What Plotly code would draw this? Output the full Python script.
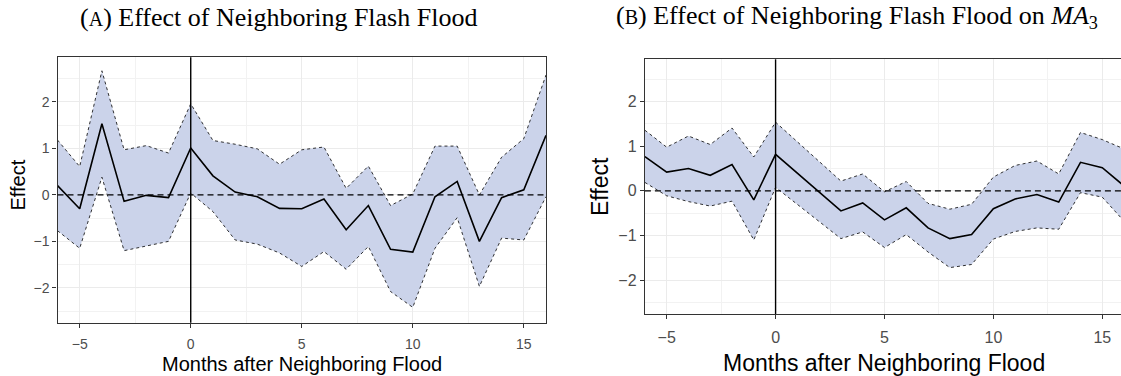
import plotly.graph_objects as go

# ---------------- data ----------------
months = list(range(-6, 17))

# Panel A: Effect of Neighboring Flash Flood
a_est = [0.20, -0.30, 1.53, -0.14, -0.01, -0.06, 1.01, 0.41, 0.06, -0.04, -0.29,
         -0.30, -0.09, -0.75, -0.23, -1.17, -1.23, -0.04, 0.29, -1.00, -0.06, 0.11, 1.28]
a_upper = [1.18, 0.61, 2.67, 0.97, 1.06, 0.90, 1.96, 1.17, 1.09, 0.99, 0.66,
           0.97, 1.03, 0.14, 0.62, -0.23, 0.02, 1.05, 1.05, 0.00, 0.81, 1.21, 2.58]
a_lower = [-0.77, -1.15, 0.38, -1.20, -1.10, -1.00, 0.04, -0.36, -0.97, -1.06, -1.25,
           -1.54, -1.22, -1.60, -1.11, -2.08, -2.42, -1.15, -0.49, -1.97, -0.93, -0.97, -0.04]

# Panel B: Effect of Neighboring Flash Flood on MA3
b_est = [0.77, 0.42, 0.50, 0.35, 0.59, -0.20, 0.82, 0.39, -0.02, -0.45, -0.27,
         -0.65, -0.38, -0.83, -1.07, -0.98, -0.40, -0.18, -0.08, -0.25, 0.64, 0.52, 0.11]
b_upper = [1.36, 0.98, 1.23, 1.04, 1.41, 0.76, 1.54, 1.10, 0.67, 0.22, 0.38,
           -0.02, 0.21, -0.28, -0.41, -0.30, 0.31, 0.57, 0.67, 0.38, 1.31, 1.15, 0.94]
b_lower = [0.19, -0.11, -0.24, -0.34, -0.23, -1.10, 0.08, -0.31, -0.69, -1.07, -0.92,
           -1.27, -0.98, -1.37, -1.72, -1.65, -1.08, -0.91, -0.83, -0.86, -0.04, -0.14, -0.68]

x_ticks = [-5, 0, 5, 10, 15]
y_ticks = [-2, -1, 0, 1, 2]

title_a = "(<span style='font-size:20px'>A</span>) Effect of Neighboring Flash Flood"
title_b = "(<span style='font-size:20px'>B</span>) Effect of Neighboring Flash Flood on <i>MA</i><sub>3</sub>"
x_title = "Months after Neighboring Flood"
y_title = "Effect"

# ---------------- style ----------------
FILL = "rgb(203,211,234)"
GRID = "#ebebeb"
AXC = "#333333"
TICKC = "#4d4d4d"
W, H = 1121, 376

fig = go.Figure()


def add_panel(xa, ya, est, up, lo):
    fig.add_trace(go.Scatter(x=months, y=lo, mode="lines", xaxis=xa, yaxis=ya,
                             line=dict(color="black", width=0.8, dash="3px,3px"),
                             showlegend=False, hoverinfo="skip"))
    fig.add_trace(go.Scatter(x=months, y=up, mode="lines", xaxis=xa, yaxis=ya,
                             fill="tonexty", fillcolor=FILL,
                             line=dict(color="black", width=0.8, dash="3px,3px"),
                             showlegend=False, hoverinfo="skip"))
    fig.add_trace(go.Scatter(x=months, y=est, mode="lines", xaxis=xa, yaxis=ya,
                             line=dict(color="black", width=1.6),
                             showlegend=False))


add_panel("x", "y", a_est, a_upper, a_lower)
add_panel("x2", "y2", b_est, b_upper, b_lower)


def xaxis(domain, rng, anchor, fs, mirror, standoff):
    return dict(domain=domain, range=rng, anchor=anchor, tickvals=x_ticks,
                ticks="outside", ticklen=4, tickwidth=1, tickcolor=AXC,
                ticklabelstandoff=standoff,
                tickfont=dict(family="Liberation Sans, Arial", size=fs, color=TICKC),
                showgrid=True, gridcolor=GRID, gridwidth=1.3, zeroline=False,
                showline=True, linecolor=AXC, linewidth=1.3, mirror=mirror,
                minor=dict(tickvals=[-2.5, 2.5, 7.5, 12.5], showgrid=True,
                           gridcolor="#f2f2f2", gridwidth=0.8, ticks=""))


def yaxis(domain, rng, anchor, fs, mirror):
    return dict(domain=domain, range=rng, anchor=anchor, tickvals=y_ticks,
                ticks="outside", ticklen=4, tickwidth=1, tickcolor=AXC,
                tickfont=dict(family="Liberation Sans, Arial", size=fs, color=TICKC),
                showgrid=True, gridcolor=GRID, gridwidth=1.3, zeroline=False,
                showline=True, linecolor=AXC, linewidth=1.3, mirror=mirror,
                minor=dict(tickvals=[-2.5, -1.5, -0.5, 0.5, 1.5, 2.5], showgrid=True,
                           gridcolor="#f2f2f2", gridwidth=0.8, ticks=""))


lx0, lx1 = 57.5, 546.0
ly_top, ly_bot = 57.3, 322.7
rx0 = 644.9
ry_top, ry_bot = 59.3, 314.0
r_unit = 21.78

fig.update_layout(
    width=W, height=H,
    margin=dict(l=0, r=0, t=0, b=0),
    paper_bgcolor="white", plot_bgcolor="white",
    xaxis=xaxis([lx0 / W, lx1 / W], [-6, 16], "y", 14, True, 4),
    yaxis=yaxis([1 - ly_bot / H, 1 - ly_top / H], [-2.75, 2.96], "x", 14, True),
    xaxis2=xaxis([rx0 / W, 1], [-6, -6 + (W - rx0) / r_unit], "y2", 16, True, 5),
    yaxis2=yaxis([1 - ry_bot / H, 1 - ry_top / H], [-2.76, 2.95], "x2", 16, False),
)

# reference lines
for xr, yr in (("x", "y"), ("x2", "y2")):
    fig.add_shape(type="line", xref=xr, yref=f"{yr} domain", x0=0, x1=0, y0=0, y1=1,
                  line=dict(color="black", width=1.4), layer="above")
    fig.add_shape(type="line", xref=f"{xr} domain", yref=yr, x0=0, x1=1, y0=0, y1=0,
                  line=dict(color="black", width=1.2, dash="6px,4px"), layer="above")

serif = "Liberation Serif, Times New Roman, serif"
sans = "Liberation Sans, Arial, sans-serif"
ann = [
    dict(text=title_a, x=278 / W, y=1 - 17 / H, xanchor="center", yanchor="middle",
         font=dict(family=serif, size=26, color="black")),
    dict(text=title_b, x=857 / W, y=1 - 17 / H, xanchor="center", yanchor="middle",
         font=dict(family=serif, size=26, color="black")),
    dict(text=x_title, x=(lx0 + lx1) / 2 / W, y=1 - 364 / H, xanchor="center", yanchor="middle",
         font=dict(family=sans, size=20, color="black")),
    dict(text=x_title, x=(rx0 + 1124) / 2 / W, y=1 - 363 / H, xanchor="center", yanchor="middle",
         font=dict(family=sans, size=23, color="black")),
    dict(text=y_title, x=17 / W, y=1 - 185.5 / H, xanchor="center", yanchor="middle",
         textangle=-90, font=dict(family=sans, size=20, color="black")),
    dict(text=y_title, x=600 / W, y=1 - 187 / H, xanchor="center", yanchor="middle",
         textangle=-90, font=dict(family=sans, size=23, color="black")),
]
for a in ann:
    a.update(xref="paper", yref="paper", showarrow=False)
fig.update_layout(annotations=ann)

fig.write_html("out.html")
